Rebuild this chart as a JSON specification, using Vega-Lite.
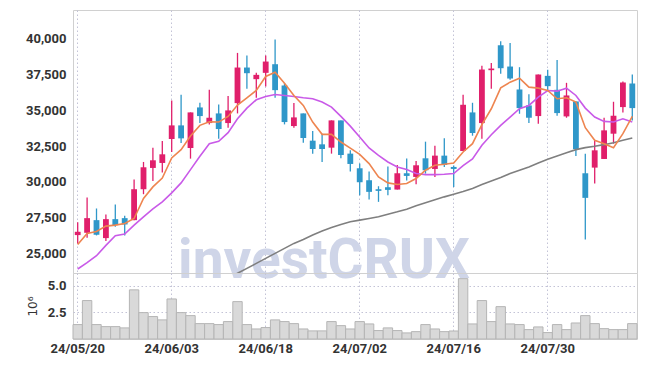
{
  "$schema": "https://vega.github.io/schema/vega-lite/v6.json",
  "background": "white",
  "padding": {"left": 25, "top": 9, "right": 8, "bottom": 5},
  "spacing": 0,
  "bounds": "flush",
  "config": {
    "view": {"stroke": "#d0d0d0", "strokeWidth": 1},
    "axis": {
      "labelFont": "Roboto",
      "labelFontSize": 13,
      "labelFontWeight": "bold",
      "labelColor": "#333333",
      "gridColor": "#c3c3d6",
      "gridDash": [1.5, 2.5],
      "gridWidth": 1,
      "ticks": false,
      "domain": false
    }
  },
  "datasets": {
    "k": [
      {"d": "24/05/20", "o": 26277, "h": 27184, "l": 25695, "c": 26509, "v": 1350000, "m5": 25625, "m10": 23904, "m60": null},
      {"d": "24/05/21", "o": 26439, "h": 28905, "l": 26091, "c": 27463, "v": 3600000, "m5": 26393, "m10": 24346, "m60": null},
      {"d": "24/05/22", "o": 27323, "h": 28138, "l": 26254, "c": 26300, "v": 1350000, "m5": 26533, "m10": 24835, "m60": null},
      {"d": "24/05/23", "o": 26067, "h": 27719, "l": 25858, "c": 27393, "v": 1160000, "m5": 26905, "m10": 25556, "m60": null},
      {"d": "24/05/24", "o": 27393, "h": 28417, "l": 26858, "c": 26974, "v": 1160000, "m5": 26975, "m10": 26230, "m60": null},
      {"d": "24/05/27", "o": 27463, "h": 27626, "l": 26254, "c": 27021, "v": 1040000, "m5": 27091, "m10": 26347, "m60": null},
      {"d": "24/05/28", "o": 27323, "h": 30161, "l": 27323, "c": 29486, "v": 4600000, "m5": 27440, "m10": 26975, "m60": null},
      {"d": "24/05/29", "o": 29486, "h": 31394, "l": 29138, "c": 31022, "v": 2470000, "m5": 28836, "m10": 27556, "m60": null},
      {"d": "24/05/30", "o": 30975, "h": 32394, "l": 30070, "c": 31510, "v": 2100000, "m5": 29650, "m10": 28114, "m60": null},
      {"d": "24/05/31", "o": 31324, "h": 32859, "l": 30649, "c": 31929, "v": 1790000, "m5": 30272, "m10": 28603, "m60": null},
      {"d": "24/06/03", "o": 32999, "h": 35697, "l": 32092, "c": 33952, "v": 3750000, "m5": 31673, "m10": 29230, "m60": null},
      {"d": "24/06/04", "o": 33952, "h": 36092, "l": 32720, "c": 33045, "v": 2470000, "m5": 32255, "m10": 29929, "m60": null},
      {"d": "24/06/05", "o": 32371, "h": 34860, "l": 31626, "c": 34860, "v": 2190000, "m5": 33208, "m10": 30859, "m60": null},
      {"d": "24/06/07", "o": 35208, "h": 35534, "l": 34115, "c": 34604, "v": 1440000, "m5": 33953, "m10": 31789, "m60": null},
      {"d": "24/06/10", "o": 34115, "h": 36441, "l": 34022, "c": 34487, "v": 1440000, "m5": 34209, "m10": 32673, "m60": null},
      {"d": "24/06/11", "o": 34790, "h": 35418, "l": 33022, "c": 33697, "v": 1350000, "m5": 34185, "m10": 32836, "m60": null},
      {"d": "24/06/12", "o": 34115, "h": 36000, "l": 33790, "c": 35000, "v": 1630000, "m5": 34581, "m10": 33441, "m60": 23300},
      {"d": "24/06/13", "o": 35511, "h": 39023, "l": 34790, "c": 38000, "v": 3500000, "m5": 35371, "m10": 34418, "m60": 23602},
      {"d": "24/06/14", "o": 38000, "h": 38837, "l": 36511, "c": 37604, "v": 1350000, "m5": 35883, "m10": 35162, "m60": 23951},
      {"d": "24/06/17", "o": 37186, "h": 37628, "l": 35883, "c": 37488, "v": 940000, "m5": 36395, "m10": 35743, "m60": 24300},
      {"d": "24/06/18", "o": 37628, "h": 38837, "l": 36674, "c": 38418, "v": 1070000, "m5": 37372, "m10": 35976, "m60": 24649},
      {"d": "24/06/19", "o": 38232, "h": 39953, "l": 35883, "c": 36418, "v": 1790000, "m5": 37674, "m10": 36116, "m60": 24998},
      {"d": "24/06/20", "o": 36744, "h": 36907, "l": 34022, "c": 34185, "v": 1630000, "m5": 36907, "m10": 36046, "m60": 25347},
      {"d": "24/06/21", "o": 33906, "h": 35511, "l": 33790, "c": 34511, "v": 1440000, "m5": 36046, "m10": 35976, "m60": 25695},
      {"d": "24/06/24", "o": 34790, "h": 34790, "l": 32743, "c": 33069, "v": 940000, "m5": 35348, "m10": 35883, "m60": 25974},
      {"d": "24/06/25", "o": 32883, "h": 33557, "l": 31976, "c": 32301, "v": 760000, "m5": 34185, "m10": 35813, "m60": 26277},
      {"d": "24/06/26", "o": 32627, "h": 33371, "l": 31394, "c": 32301, "v": 760000, "m5": 33325, "m10": 35581, "m60": 26556},
      {"d": "24/06/27", "o": 32394, "h": 34301, "l": 31976, "c": 34301, "v": 1630000, "m5": 33325, "m10": 35232, "m60": 26812},
      {"d": "24/06/28", "o": 34301, "h": 34301, "l": 31650, "c": 31882, "v": 1250000, "m5": 32790, "m10": 34581, "m60": 27021},
      {"d": "24/07/01", "o": 31976, "h": 32208, "l": 30719, "c": 31254, "v": 940000, "m5": 32360, "m10": 33900, "m60": 27207},
      {"d": "24/07/02", "o": 30952, "h": 31278, "l": 29068, "c": 29975, "v": 1630000, "m5": 31929, "m10": 33139, "m60": 27323},
      {"d": "24/07/03", "o": 30115, "h": 30719, "l": 28766, "c": 29301, "v": 1410000, "m5": 31278, "m10": 32371, "m60": 27440},
      {"d": "24/07/04", "o": 29486, "h": 29696, "l": 28603, "c": 29370, "v": 790000, "m5": 30347, "m10": 31859, "m60": 27556},
      {"d": "24/07/05", "o": 29626, "h": 31068, "l": 29068, "c": 29440, "v": 1040000, "m5": 29929, "m10": 31394, "m60": 27742},
      {"d": "24/07/08", "o": 29463, "h": 31185, "l": 29463, "c": 30603, "v": 790000, "m5": 29812, "m10": 31045, "m60": 27905},
      {"d": "24/07/09", "o": 30603, "h": 31627, "l": 30091, "c": 30417, "v": 570000, "m5": 29882, "m10": 30859, "m60": 28091},
      {"d": "24/07/10", "o": 30347, "h": 31464, "l": 29835, "c": 31161, "v": 690000, "m5": 30231, "m10": 30580, "m60": 28324},
      {"d": "24/07/11", "o": 31650, "h": 32813, "l": 30580, "c": 30813, "v": 1350000, "m5": 30813, "m10": 30510, "m60": 28533},
      {"d": "24/07/12", "o": 30905, "h": 32534, "l": 30347, "c": 31836, "v": 940000, "m5": 31161, "m10": 30510, "m60": 28743},
      {"d": "24/07/15", "o": 31836, "h": 33045, "l": 31045, "c": 31185, "v": 690000, "m5": 31231, "m10": 30533, "m60": 28952},
      {"d": "24/07/16", "o": 31045, "h": 31138, "l": 29649, "c": 30905, "v": 750000, "m5": 31324, "m10": 30580, "m60": 29138},
      {"d": "24/07/17", "o": 32161, "h": 36092, "l": 32161, "c": 35394, "v": 5650000, "m5": 32092, "m10": 31138, "m60": 29324},
      {"d": "24/07/18", "o": 34860, "h": 35534, "l": 33231, "c": 33418, "v": 1410000, "m5": 32673, "m10": 31603, "m60": 29533},
      {"d": "24/07/19", "o": 34115, "h": 38116, "l": 33022, "c": 37860, "v": 3600000, "m5": 34000, "m10": 32557, "m60": 29812},
      {"d": "24/07/22", "o": 37814, "h": 38325, "l": 36511, "c": 37930, "v": 1630000, "m5": 35115, "m10": 33300, "m60": 30060},
      {"d": "24/07/23", "o": 39558, "h": 39837, "l": 37558, "c": 37953, "v": 3030000, "m5": 36581, "m10": 33953, "m60": 30300},
      {"d": "24/07/24", "o": 38069, "h": 39721, "l": 37139, "c": 37232, "v": 1410000, "m5": 36976, "m10": 34534, "m60": 30580},
      {"d": "24/07/25", "o": 36465, "h": 38023, "l": 34767, "c": 35162, "v": 1350000, "m5": 37255, "m10": 35116, "m60": 30813},
      {"d": "24/07/26", "o": 35348, "h": 36139, "l": 34115, "c": 34488, "v": 880000, "m5": 36628, "m10": 35348, "m60": 31045},
      {"d": "24/07/29", "o": 34604, "h": 37511, "l": 34069, "c": 37511, "v": 1130000, "m5": 36558, "m10": 35930, "m60": 31324},
      {"d": "24/07/30", "o": 37418, "h": 37837, "l": 36395, "c": 36697, "v": 600000, "m5": 36395, "m10": 36395, "m60": 31580},
      {"d": "24/07/31", "o": 36441, "h": 38535, "l": 34627, "c": 34813, "v": 1350000, "m5": 35813, "m10": 36348, "m60": 31813},
      {"d": "24/08/01", "o": 34581, "h": 36930, "l": 34488, "c": 36046, "v": 880000, "m5": 35883, "m10": 36558, "m60": 32045},
      {"d": "24/08/02", "o": 35627, "h": 35627, "l": 31813, "c": 32301, "v": 1500000, "m5": 35580, "m10": 36046, "m60": 32255},
      {"d": "24/08/05", "o": 30603, "h": 31976, "l": 25974, "c": 28882, "v": 2190000, "m5": 33790, "m10": 35162, "m60": 32394},
      {"d": "24/08/06", "o": 30998, "h": 32860, "l": 29882, "c": 32208, "v": 1440000, "m5": 32906, "m10": 34534, "m60": 32487},
      {"d": "24/08/07", "o": 31603, "h": 34488, "l": 31603, "c": 33604, "v": 970000, "m5": 32673, "m10": 34232, "m60": 32604},
      {"d": "24/08/08", "o": 33371, "h": 35604, "l": 32673, "c": 34627, "v": 880000, "m5": 32394, "m10": 34185, "m60": 32743},
      {"d": "24/08/09", "o": 35232, "h": 37023, "l": 34860, "c": 36953, "v": 880000, "m5": 33371, "m10": 34418, "m60": 32906},
      {"d": "24/08/12", "o": 36883, "h": 37511, "l": 34301, "c": 35162, "v": 1440000, "m5": 34581, "m10": 34185, "m60": 33069}
    ]
  },
  "vconcat": [
    {
      "width": 564,
      "height": 263,
      "data": {"name": "k"},
      "encoding": {
        "x": {
          "field": "d", "type": "ordinal", "sort": "ascending",
          "scale": {"paddingInner": 0, "paddingOuter": 0},
          "axis": {"labels": false, "title": null, "grid": true, "bandPosition": 0.5,
                   "values": ["24/05/20", "24/06/03", "24/06/18", "24/07/02", "24/07/16", "24/07/30"]}
        }
      },
      "layer": [
        {
          "transform": [{"filter": "datum.d == '24/06/04'"}],
          "mark": {"type": "text", "font": "Roboto", "fontWeight": "bold", "fontSize": 55, "color": "#cfd5e8", "align": "left", "baseline": "alphabetic", "dx": -3},
          "encoding": {
            "y": {"datum": 23254, "type": "quantitative", "scale": {"domain": [23625, 42025], "nice": false, "zero": false},
                  "axis": {"title": null, "values": [25000, 27500, 30000, 32500, 35000, 37500, 40000], "format": ",d", "labelPadding": 7}},
            "text": {"value": "investCRUX"}
          }
        },
        {
          "mark": {"type": "rule", "strokeWidth": 1.3},
          "encoding": {
            "y": {"field": "l", "type": "quantitative", "scale": {"domain": [23625, 42025], "nice": false, "zero": false},
                  "axis": {"title": null, "values": [25000, 27500, 30000, 32500, 35000, 37500, 40000], "format": ",d", "labelPadding": 7}},
            "y2": {"field": "h"},
            "color": {"condition": {"test": "datum.c >= datum.o", "value": "#e01f6b"}, "value": "#2f97c9"}
          }
        },
        {
          "mark": {"type": "bar", "width": {"band": 0.62}},
          "encoding": {
            "y": {"field": "o", "type": "quantitative", "scale": {"domain": [23625, 42025], "nice": false, "zero": false},
                  "axis": {"title": null, "values": [25000, 27500, 30000, 32500, 35000, 37500, 40000], "format": ",d", "labelPadding": 7}},
            "y2": {"field": "c"},
            "color": {"condition": {"test": "datum.c >= datum.o", "value": "#e01f6b"}, "value": "#2f97c9"}
          }
        },
        {
          "mark": {"type": "line", "color": "#7f7f7f", "strokeWidth": 1.6, "clip": true},
          "encoding": {"y": {"field": "m60", "type": "quantitative", "scale": {"domain": [23625, 42025], "nice": false, "zero": false},
                  "axis": {"title": null, "values": [25000, 27500, 30000, 32500, 35000, 37500, 40000], "format": ",d", "labelPadding": 7}}}
        },
        {
          "mark": {"type": "line", "color": "#c95ae8", "strokeWidth": 1.6},
          "encoding": {"y": {"field": "m10", "type": "quantitative", "scale": {"domain": [23625, 42025], "nice": false, "zero": false},
                  "axis": {"title": null, "values": [25000, 27500, 30000, 32500, 35000, 37500, 40000], "format": ",d", "labelPadding": 7}}}
        },
        {
          "mark": {"type": "line", "color": "#ee8550", "strokeWidth": 1.6},
          "encoding": {"y": {"field": "m5", "type": "quantitative", "scale": {"domain": [23625, 42025], "nice": false, "zero": false},
                  "axis": {"title": null, "values": [25000, 27500, 30000, 32500, 35000, 37500, 40000], "format": ",d", "labelPadding": 7}}}
        }
      ]
    },
    {
      "width": 564,
      "height": 66,
      "data": {"name": "k"},
      "mark": {"type": "bar", "fill": "#d9d9d9", "stroke": "#b5b5b5", "strokeWidth": 1},
      "encoding": {
        "x": {
          "field": "d", "type": "ordinal", "sort": "ascending",
          "scale": {"paddingInner": 0, "paddingOuter": 0},
          "axis": {"title": null, "grid": true, "bandPosition": 0.5, "labelAngle": 0, "labelPadding": 3, "labelOverlap": false,
                   "values": ["24/05/20", "24/06/03", "24/06/18", "24/07/02", "24/07/16", "24/07/30"]}
        },
        "y": {
          "field": "v", "type": "quantitative",
          "scale": {"domain": [0, 6180000], "nice": false},
          "axis": {"values": [2500000, 5000000], "labelExpr": "format(datum.value / 1000000, '.1f')", "labelPadding": 7,
                   "title": "10⁶", "titleX": -34, "titleFont": "DejaVu Sans", "titleFontWeight": "normal", "titleFontSize": 12, "titleColor": "#333333"}
        }
      }
    }
  ]
}
